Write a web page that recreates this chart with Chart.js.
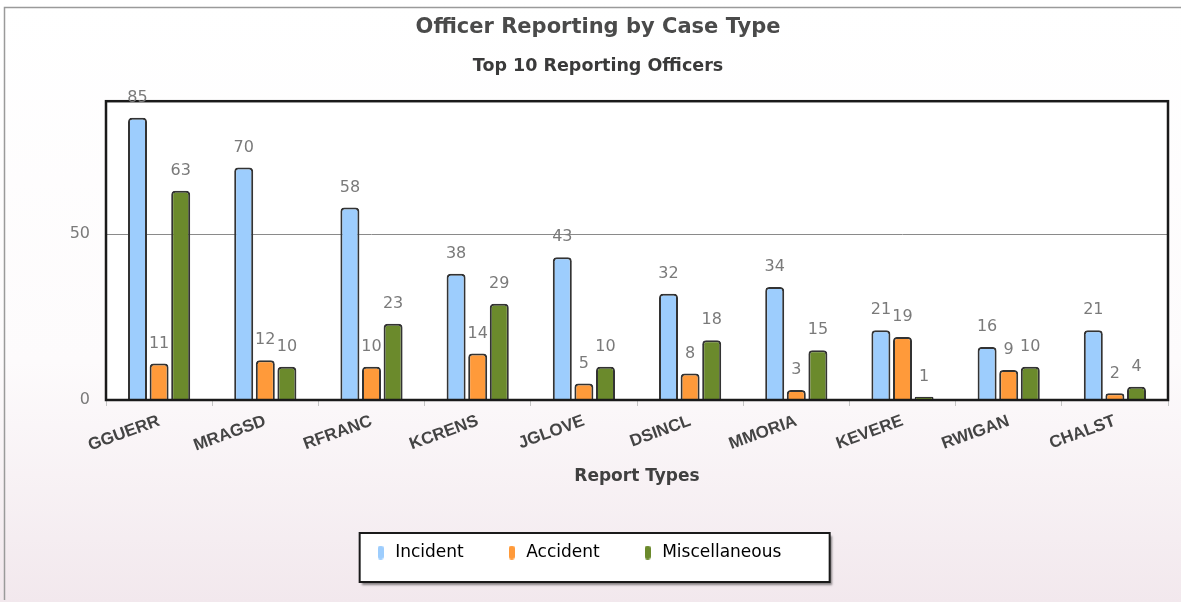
<!DOCTYPE html>
<html><head><meta charset="utf-8">
<script src="https://cdn.jsdelivr.net/npm/chart.js@4.4.1/dist/chart.umd.min.js"></script>
<style>html,body{margin:0;padding:0;background:#fff}#wrap{width:1181px;height:602px;position:relative}</style>
</head><body><div id="wrap"><canvas id="c" width="1181" height="602"></canvas></div>
<script>
const categories = ['GGUERR','MRAGSD','RFRANC','KCRENS','JGLOVE','DSINCL','MMORIA','KEVERE','RWIGAN','CHALST'];
const incident = [85,70,58,38,43,32,34,21,16,21];
const accident = [11,12,10,14,5,8,3,19,9,2];
const misc = [63,10,23,29,10,18,15,1,10,4];
const yTicks = [0,50];
const yMax = 90;

const TITLE = 'Officer Reporting by Case Type';
const SUBTITLE = 'Top 10 Reporting Officers';
const FONT = '"DejaVu Sans", Verdana, sans-serif';

function markerImage(color) {
  const c = document.createElement('canvas');
  c.width = 6; c.height = 14;
  const x = c.getContext('2d');
  x.fillStyle = color;
  x.beginPath();
  x.roundRect(0, 0, 6, 14, 3);
  x.fill();
  return c;
}

const decor = {
  id: 'decor',
  afterLayout(chart) {
    const lg = chart.legend;
    if (lg) { lg.left -= 11; lg.right -= 11; }
    chart.boxes.forEach(b => {
      if (b.options && (b.options.text === TITLE || b.options.text === SUBTITLE)) { b.left += 9; b.right += 9; }
    });
  },
  beforeDraw(chart) {
    const ctx = chart.ctx, W = chart.width, H = chart.height;
    ctx.save();
    const g = ctx.createLinearGradient(0, 0, 0, H);
    g.addColorStop(0, '#ffffff');
    g.addColorStop(0.6, '#fdfbfc');
    g.addColorStop(1, '#f2e8ed');
    ctx.fillStyle = g;
    ctx.fillRect(0, 0, W, H);
    ctx.strokeStyle = '#9a9a9a';
    ctx.lineWidth = 1.5;
    ctx.beginPath();
    ctx.moveTo(4.5, 600); ctx.lineTo(4.5, 7.5); ctx.lineTo(W, 7.5);
    ctx.stroke();
    const a = chart.chartArea;
    ctx.fillStyle = '#ffffff';
    ctx.fillRect(a.left, a.top, a.right - a.left, a.bottom - a.top);
    const lg = chart.legend;
    if (lg && lg.legendHitBoxes && lg.legendHitBoxes.length) {
      const first = lg.legendHitBoxes[0];
      const bx = first.left - 15;
      const by = lg.top + 31, bw = 470, bh = 49;
      ctx.shadowColor = 'rgba(0,0,0,0.45)';
      ctx.shadowOffsetX = 2; ctx.shadowOffsetY = 3; ctx.shadowBlur = 2;
      ctx.fillStyle = '#ffffff';
      ctx.fillRect(bx, by, bw, bh);
      ctx.shadowColor = 'transparent';
      ctx.strokeStyle = '#1a1a1a';
      ctx.lineWidth = 2;
      ctx.strokeRect(bx, by, bw, bh);
    }
    ctx.restore();
  },
  afterDatasetsDraw(chart) {
    const ctx = chart.ctx, a = chart.chartArea;
    ctx.save();
    ctx.strokeStyle = '#1a1a1a';
    ctx.lineWidth = 2.5;
    ctx.strokeRect(a.left, a.top, a.right - a.left, a.bottom - a.top);
    ctx.font = '16px ' + FONT;
    ctx.fillStyle = '#7a7a7a';
    ctx.textAlign = 'center';
    ctx.textBaseline = 'middle';
    chart.data.datasets.forEach((ds, i) => {
      chart.getDatasetMeta(i).data.forEach((el, j) => {
        ctx.fillText(String(ds.data[j]), el.x, el.y - 20);
      });
    });
    ctx.restore();
  }
};

const barStyle = { borderColor: '#333', borderWidth: 2, borderRadius: 4, borderSkipped: 'bottom', barPercentage: 0.88, categoryPercentage: 0.61 };

new Chart(document.getElementById('c'), {
  type: 'bar',
  data: {
    labels: categories,
    datasets: [
      Object.assign({ label: 'Incident', data: incident, backgroundColor: '#9dcdfd' }, barStyle),
      Object.assign({ label: 'Accident', data: accident, backgroundColor: '#ff9a3a' }, barStyle),
      Object.assign({ label: 'Miscellaneous', data: misc, backgroundColor: '#6b8a2c' }, barStyle)
    ]
  },
  options: {
    responsive: false,
    animation: false,
    devicePixelRatio: 1,
    layout: { padding: { left: 10, right: 13, top: 8, bottom: 31 } },
    plugins: {
      title: { display: true, text: TITLE, color: '#4a4a4a', font: { family: FONT, size: 21, weight: 'bold' }, padding: { top: 7, bottom: 16 } },
      subtitle: { display: true, text: SUBTITLE, color: '#3a3a3a', font: { family: FONT, size: 17.5, weight: 'bold' }, padding: { top: 0, bottom: 24 } },
      legend: {
        position: 'bottom',
        maxHeight: 77,
        labels: {
          usePointStyle: true, pointStyleWidth: 12, boxHeight: 14, padding: 42,
          color: '#777', font: { family: FONT, size: 17 },
          generateLabels(chart) {
            return chart.data.datasets.map((ds, i) => ({ text: ds.label, fillStyle: ds.backgroundColor, strokeStyle: ds.backgroundColor, lineWidth: 0, hidden: false, datasetIndex: i, pointStyle: markerImage(ds.backgroundColor) }));
          }
        }
      },
      tooltip: { enabled: false }
    },
    scales: {
      x: {
        afterFit(s) { s.height = 102; },
        grid: { offset: true, drawOnChartArea: false, drawTicks: true, tickLength: 6, color: '#c4c4c4' },
        border: { display: false },
        ticks: { minRotation: 20, maxRotation: 20, padding: 5, color: '#444', font: { family: '"Liberation Sans", Arial, sans-serif', size: 17, weight: 'bold' } },
        title: { display: true, text: 'Report Types', color: '#404040', font: { family: FONT, size: 17, weight: 'bold' }, padding: { top: 0, bottom: 15 } }
      },
      y: {
        min: 0, max: yMax,
        afterFit(s) { s.width = 96; },
        afterBuildTicks(s) { s.ticks = yTicks.map(v => ({ value: v })); },
        grid: { drawTicks: false, color: c => (c.tick && c.tick.value === 0) ? 'rgba(0,0,0,0)' : '#8a8a8a', lineWidth: 1 },
        border: { display: false },
        ticks: { padding: 16, color: '#7a7a7a', font: { family: FONT, size: 16 } }
      }
    }
  },
  plugins: [decor]
});
</script>
</body></html>
